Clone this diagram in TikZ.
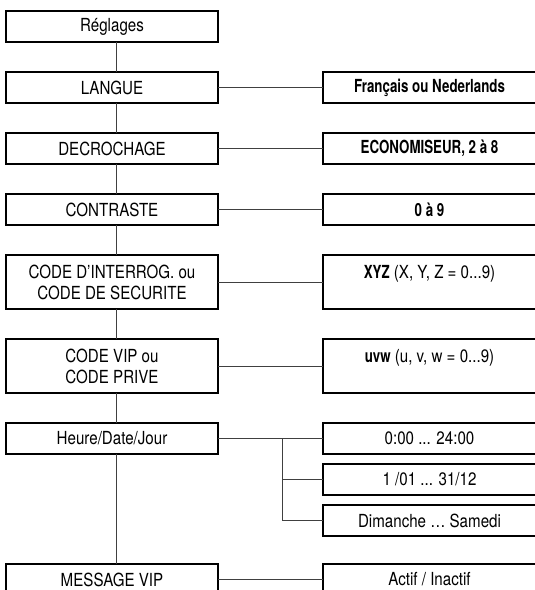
\documentclass[tikz,border=0pt]{standalone}
\usepackage{fontspec}
\setmainfont{TeX Gyre Heros}[FakeStretch=0.84, BoldFeatures={FakeStretch=0.74}]
\usepackage{tikz}
\usetikzlibrary{positioning}

\begin{document}
\begin{tikzpicture}[x=1pt,y=1pt,font=\fontsize{18}{21}\selectfont]
\tikzstyle{menu}=[rectangle, draw=black, line width=1.4pt, minimum width=212pt, minimum height=31pt, inner sep=0pt, outer sep=0pt, align=center]
\tikzstyle{tall}=[minimum height=54pt]
\tikzstyle{choice}=[menu, minimum width=213pt]
\tikzstyle{connect}=[line width=0.9pt, draw=black!75]
  \useasboundingbox (0,0) rectangle (535,-590);
  % left column
  \node[menu] (reglages) at (112,-26.5) {Réglages};
  \node[menu] (langue) [below=30pt of reglages] {LANGUE};
  \node[menu] (decrochage) [below=30pt of langue] {DECROCHAGE};
  \node[menu] (contraste) [below=30pt of decrochage] {CONTRASTE};
  \node[menu, tall] (interrog) [below=30pt of contraste] {CODE D’INTERROG. ou\\CODE DE SECURITE};
  \node[menu, tall] (vip) [below=30pt of interrog] {CODE VIP ou\\CODE PRIVE};
  \node[menu] (heure) [below=30pt of vip] {Heure/Date/Jour};
  \node[menu] (message) [below=110pt of heure] {MESSAGE VIP};
  % right column
  \node[choice] (langues) [right=105pt of langue] {\textbf{Français ou Nederlands}};
  \node[choice] (economiseur) [right=105pt of decrochage] {\textbf{ECONOMISEUR, 2 à 8}};
  \node[choice] (niveaux) [right=105pt of contraste] {\textbf{0 à 9}};
  \node[choice, tall] (xyz) [right=105pt of interrog] {\textbf{XYZ} (X, Y, Z = 0...9)\\~};
  \node[choice, tall] (uvw) [right=105pt of vip] {\textbf{uvw} (u, v, w = 0...9)\\~};
  \node[choice] (heures) [right=105pt of heure] {0:00 ... 24:00};
  \node[choice] (dates) [below=10pt of heures] {1 /01 ... 31/12};
  \node[choice] (jours) [below=10pt of dates] {Dimanche … Samedi};
  \node[choice] (actif) [right=105pt of message] {Actif / Inactif};
  \coordinate (fork) at ([xshift=64pt]heure.east);
  % trunk
  \path ([xshift=4pt]reglages.south) edge [connect] ([xshift=4pt]langue.north)
        ([xshift=4pt]langue.south) edge [connect] ([xshift=4pt]decrochage.north)
        ([xshift=4pt]decrochage.south) edge [connect] ([xshift=4pt]contraste.north)
        ([xshift=4pt]contraste.south) edge [connect] ([xshift=4pt]interrog.north)
        ([xshift=4pt]interrog.south) edge [connect] ([xshift=4pt]vip.north)
        ([xshift=4pt]vip.south) edge [connect] ([xshift=4pt]heure.north)
        ([xshift=4pt]heure.south) edge [connect] ([xshift=4pt]message.north);
  % branches
  \path (langue) edge [connect] (langues)
        (decrochage) edge [connect] (economiseur)
        (contraste) edge [connect] (niveaux)
        (interrog) edge [connect] (xyz)
        (vip) edge [connect] (uvw)
        (heure) edge [connect] (heures)
        (message) edge [connect] (actif);
  \draw[connect] (fork) |- (dates.west);
  \draw[connect] (fork) |- (jours.west);
\end{tikzpicture}
\end{document}
